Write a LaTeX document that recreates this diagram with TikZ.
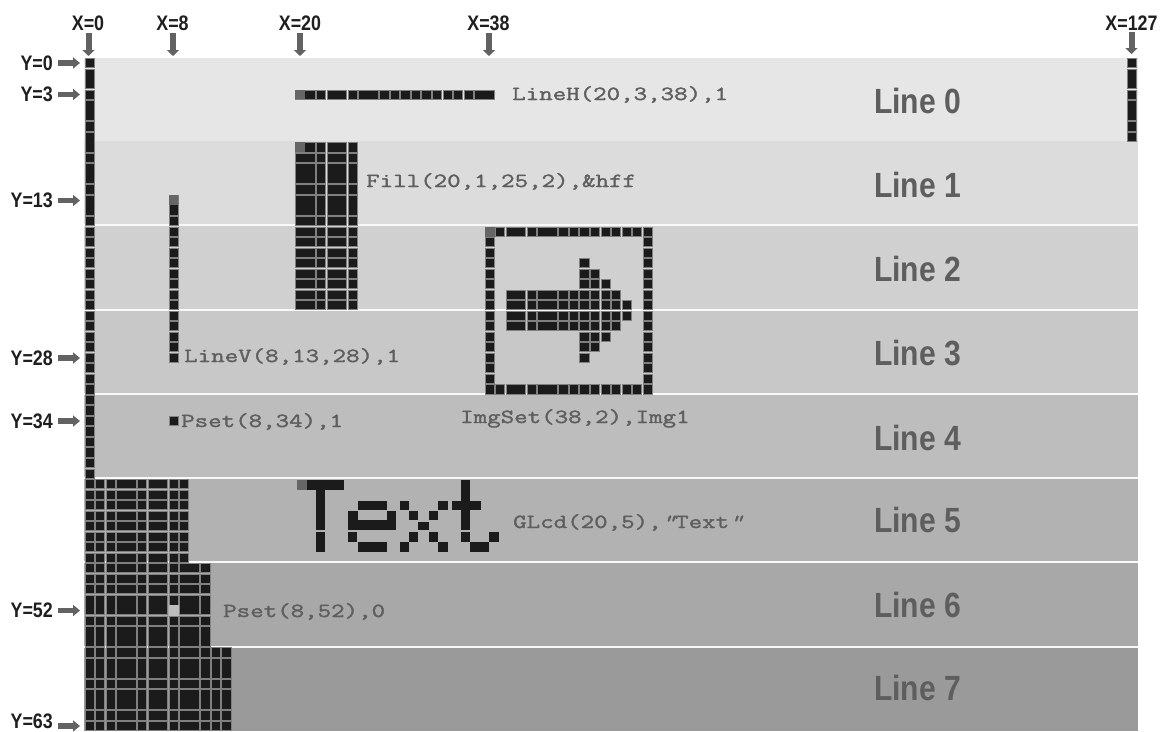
\documentclass[tikz,border=0pt]{standalone}
\usepackage{fontspec}
\usetikzlibrary{arrows.meta}
\newfontfamily\coordfont[FakeStretch=0.85]{Liberation Sans Bold}
\newfontfamily\linefont[FakeStretch=0.86]{Liberation Sans Bold}
\newfontfamily\codefont[FakeStretch=1.31,FakeBold=1.6]{Latin Modern Mono}
\newfontfamily\quotefont[FakeStretch=1.31,FakeBold=1.6,FakeSlant=0.35]{Latin Modern Mono}
\definecolor{pixblack}{HTML}{1B1B1B}
\definecolor{pixedge}{HTML}{808080}
\definecolor{pixfirst}{HTML}{666666}
\definecolor{pixerased}{HTML}{BCBCBC}
\definecolor{labelgray}{HTML}{5E5E5E}
\definecolor{codegray}{HTML}{5E5E5E}
\definecolor{arrowgray}{HTML}{626262}
\definecolor{bandA}{HTML}{E6E6E6}
\definecolor{bandB}{HTML}{DCDCDC}
\definecolor{bandC}{HTML}{D0D0D0}
\definecolor{bandD}{HTML}{C8C8C8}
\definecolor{bandE}{HTML}{BDBDBD}
\definecolor{bandF}{HTML}{B2B2B2}
\definecolor{bandG}{HTML}{A8A8A8}
\definecolor{bandH}{HTML}{9A9A9A}
\tikzset{
  xlabel/.style={font=\coordfont\fontsize{21}{21}\selectfont,text=black!88,inner sep=0pt,anchor=center},
  ylabel/.style={font=\coordfont\fontsize{21}{21}\selectfont,text=black!88,inner sep=0pt,anchor=east},
  linelabel/.style={font=\linefont\fontsize{35}{35}\selectfont,text=labelgray,inner sep=0pt,anchor=base west},
  codelabel/.style={font=\codefont\fontsize{20}{20}\selectfont,text=codegray,inner sep=0pt,anchor=base west},
  blockarrow/.style={draw=arrowgray,line width=6pt,-{Triangle[width=12pt,length=6pt]}},
  blockarrowh/.style={draw=arrowgray,line width=5.5pt,-{Triangle[width=11pt,length=7pt]}},
  whitesep/.style={draw=white!95!gray,line width=1.5pt}
}
% pixel helpers (col1,col2,row1,row2,colour)
\newcommand{\pixrect}[5]{%
  \pgfmathsetmacro{\pxa}{84.3+10.53*#1+0.35}%
  \pgfmathsetmacro{\pxb}{84.3+10.53*(#2+1)-1.0}%
  \pgfmathsetmacro{\pya}{58+10.52*#3+0.35}%
  \pgfmathsetmacro{\pyb}{58+10.52*(#4+1)-1.0}%
  \fill[#5,draw=pixedge,line width=0.25pt] (\pxa,\pya) rectangle (\pxb,\pyb);}
\newcommand{\pixblock}[2]{%
  \foreach \ca/\cb in #1 {\foreach \ra/\rb in #2 {\pixrect{\ca}{\cb}{\ra}{\rb}{pixblack}}}}
\def\rowsTop{0/0,1/2,3/3,4/5,6/6,7/8,9/9,10/11,12/12,13/14,15/15}
\def\rowsMidA{16/16,17/17,18/18,19/19,20/20,21/21,22/22,23/23}
\def\rowsMidB{24/24,25/25,26/26,27/27,28/28,29/29,30/30,31/31}
\def\rowsMidC{32/32,33/33,34/34,35/35,36/36,37/37,38/38,39/39}
\def\rowsFive{40/40,41/41,42/42,43/43,44/44,45/45,46/46,47/47}
\def\rowsSix{48/48,49/49,50/50,51/52,53/53,54/55}
\def\rowsSeven{56/56,57/58,59/59,60/61,62/62,63/63}
\def\colsFive{0/0,1/1,2/2,3/4,5/5,6/7,8/8,9/9}
\def\colsSix{0/0,1/1,2/2,3/4,5/5,6/7,8/8,9/10,11/11}
\def\colsSeven{0/0,1/1,2/2,3/4,5/5,6/7,8/8,9/10,11/11,12/12,13/13}
\begin{document}
\begin{tikzpicture}[x=1pt,y=-1pt]
\useasboundingbox (0,0) rectangle (1167,731);
% bands
\fill[white] (0,0) rectangle (1167,731);
\fill[bandA] (84,58) rectangle (1138,141);
\fill[bandB] (84,141) rectangle (1138,225);
\fill[bandC] (84,225) rectangle (1138,310);
\fill[bandD] (84,310) rectangle (1138,394);
\fill[bandE] (84,394) rectangle (1138,478);
\fill[bandF] (84,478) rectangle (1138,562);
\fill[bandG] (84,562) rectangle (1138,647);
\fill[bandH] (84,647) rectangle (1138,731);
\foreach \sy in {225,310,394,478,562,647} \draw[whitesep] (84,\sy) -- (1138,\sy);
% column 0
\pixblock{{0/0}}{\rowsTop}
\pixblock{{0/0}}{\rowsMidA}
\pixblock{{0/0}}{\rowsMidB}
\pixblock{{0/0}}{\rowsMidC}
% column 127
\begin{scope}[xshift=1042.4pt]
\pixblock{{0/0}}{{0/0,1/2,3/3,4/5,6/6,7/7}}
\end{scope}
% LineH
\pixrect{20}{21}{3}{3}{pixblack}
\pixblock{{22/22,23/24,25/25,26/27,28/28,29/29,30/30,31/31,32/32,33/33,34/34,35/35,36/36,37/38}}{{3/3}}
\fill[pixfirst] (295,90) rectangle (305,99);
% Fill
\pixblock{{20/21,22/22,23/24,25/25}}{{8/8,9/9,10/11,12/12,13/14,15/15}}
\pixblock{{20/21,22/22,23/24,25/25}}{\rowsMidA}
\fill[pixfirst] (295,142) rectangle (305,151.5);
% LineV
\pixblock{{8/8}}{{13/14,15/15}}
\pixblock{{8/8}}{\rowsMidA}
\pixblock{{8/8}}{{24/24,25/25,26/26,27/27,28/28}}
\fill[pixfirst] (169,195) rectangle (178,204.5);
% Pset (8,34)
\pixrect{8}{8}{34}{34}{pixblack}
% ImgSet frame
\pixblock{{38/38,39/39,40/41,42/42,43/44,45/45,46/46,47/47,48/48,49/49,50/50,51/51,52/52,53/53}}{{16/16,31/31}}
\foreach \fr in {17,...,30} {\pixrect{38}{38}{\fr}{\fr}{pixblack}\pixrect{53}{53}{\fr}{\fr}{pixblack}}
\fill[pixfirst] (485,227) rectangle (495,236.5);
% ImgSet arrow
\pixrect{47}{47}{19}{19}{pixblack}
\pixblock{{47/47,48/48}}{{20/20,27/27}}
\pixblock{{47/47}}{{28/28}}
\pixblock{{47/47,48/48,49/49}}{{21/21,26/26}}
\pixblock{{40/41,42/42,43/44,45/45,46/46,47/47,48/48,49/49,50/50}}{{22/22,25/25}}
\pixblock{{40/41,42/42,43/44,45/45,46/46,47/47,48/48,49/49,50/50,51/51}}{{23/23,24/24}}
% filled blocks
\pixblock{\colsFive}{\rowsFive}
\pixblock{\colsSix}{\rowsSix}
\pixblock{\colsSeven}{\rowsSeven}
\fill[pixerased] (168.5,605) rectangle (178.5,616);
% Text glyphs
\begin{scope}[shift={(285,470)},x=0.3333pt,y=-0.3333pt]
\foreach \xa/\ya/\xb/\yb in {
 35/31/178/60, 92/60/120/180, 92/185/120/245,
 218/92/305/120, 190/124/218/150, 305/124/333/150, 190/150/333/180, 190/185/215/215, 218/215/305/245,
 346/92/372/120, 460/92/488/120, 372/124/400/150, 432/124/460/150, 400/155/432/180,
 372/185/400/215, 432/185/460/215, 346/215/372/245, 460/215/488/245,
 527/31/555/180, 500/92/587/120, 527/185/555/215, 555/215/612/245, 612/185/642/215}
 \fill[pixblack] (\xa,\ya) rectangle (\xb,\yb);
\fill[pixfirst] (35,31) rectangle (65,60);
\end{scope}
% X labels and arrows
\node[xlabel] (xa) at (88,23) {X=0};
\node[xlabel] (xb) at (172.5,23) {X=8};
\node[xlabel] (xc) at (300,23) {X=20};
\node[xlabel] (xd) at (488.5,23) {X=38};
\node[xlabel] (xe) at (1131.5,23) {X=127};
\coordinate (xat) at (88.5,56);
\coordinate (xbt) at (173,56);
\coordinate (xct) at (300,56);
\coordinate (xdt) at (489,56);
\coordinate (xet) at (1131.5,54);
\coordinate (xas) at (88.5,33);
\coordinate (xbs) at (173,33);
\coordinate (xcs) at (300,33);
\coordinate (xds) at (489,33);
\coordinate (xes) at (1131.5,32);
\draw[blockarrow] (xas) -- (xat);
\draw[blockarrow] (xbs) -- (xbt);
\draw[blockarrow] (xcs) -- (xct);
\draw[blockarrow] (xds) -- (xdt);
\draw[blockarrow] (xes) -- (xet);
% Y labels and arrows
\foreach \nm/\ty/\yy/\ay in {ya/0/63/63,yb/3/94.5/94.5,yc/13/200.5/200.5,yd/28/358/358,ye/34/421/421,yf/52/610.5/610.5,yg/63/721.5/726}{
  \node[ylabel] (\nm) at (53,\yy) {Y=\ty};
  \coordinate (\nm s) at (58,\ay);
  \coordinate (\nm t) at (80,\ay);
  \draw[blockarrowh] (\nm s) -- (\nm t);
}
% line labels
\node[linelabel] (la) at (874,113) {Line 0};
\node[linelabel] (lb) at (874,197) {Line 1};
\node[linelabel] (lc) at (874,281) {Line 2};
\node[linelabel] (ld) at (874,365) {Line 3};
\node[linelabel] (le) at (874,450) {Line 4};
\node[linelabel] (lf) at (874,532) {Line 5};
\node[linelabel] (lg) at (874,617) {Line 6};
\node[linelabel] (lh) at (874,700) {Line 7};
% code labels
\node[codelabel] (ca) at (512,100) {LineH(20,3,38),1};
\node[codelabel] (cb) at (366,187) {Fill(20,1,25,2),\&hff};
\node[codelabel] (cc) at (184,362) {LineV(8,13,28),1};
\node[codelabel] (cd) at (181,427) {Pset(8,34),1};
\node[codelabel] (ce) at (460,423) {ImgSet(38,2),Img1};
\node[codelabel] (cf) at (513,528) {GLcd(20,5),{\quotefont"}Text{\quotefont"}};
\node[codelabel] (cg) at (223,617) {Pset(8,52),0};
\end{tikzpicture}
\end{document}
